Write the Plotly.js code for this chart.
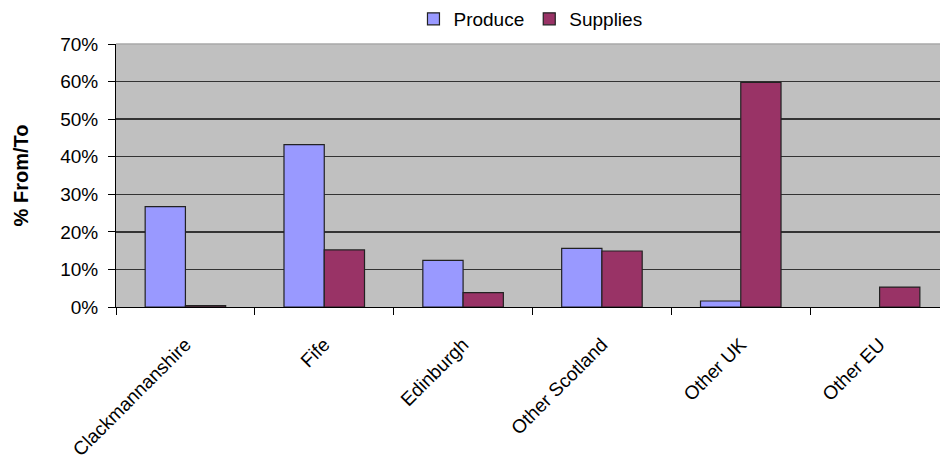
<!DOCTYPE html>
<html>
<head>
<meta charset="utf-8">
<script src="https://cdn.plot.ly/plotly-3.0.1.min.js"></script>
<style>html,body{margin:0;padding:0;background:#fff;}#chart{width:940px;height:461px;}</style>
</head>
<body>
<div id="chart"></div>
<script>
const categories = ["Clackmannanshire", "Fife", "Edinburgh", "Other Scotland", "Other UK", "Other EU"];
const produce = [0.267, 0.432, 0.124, 0.156, 0.016, null];
const supplies = [0.0035, 0.152, 0.038, 0.149, 0.598, 0.053];
const yTickVals = [0, 0.1, 0.2, 0.3, 0.4, 0.5, 0.6, 0.7];
const yTickText = ["0%", "10%", "20%", "30%", "40%", "50%", "60%", "70%"];

const font = "Arial, 'Liberation Sans', sans-serif";

const traces = [
  {type: "bar", name: "Produce", x: categories, y: produce,
   marker: {color: "#9999ff", line: {color: "#222", width: 1.2}}},
  {type: "bar", name: "Supplies", x: categories, y: supplies,
   marker: {color: "#993366", line: {color: "#222", width: 1.2}}}
];

const layout = {
  width: 940, height: 461,
  margin: {l: 116, r: 0, t: 44, b: 154},
  paper_bgcolor: "#ffffff",
  plot_bgcolor: "#c0c0c0",
  barmode: "group",
  bargap: 0.42,
  bargroupgap: 0,
  font: {family: font, size: 18, color: "#000"},
  showlegend: true,
  legend: {orientation: "h", x: 0.503, xanchor: "center", yref: "container", y: 1.0, yanchor: "top",
           font: {family: font, size: 19, color: "#000"}, itemwidth: 30, traceorder: "normal"},
  xaxis: {
    type: "category",
    range: [-0.5, 5.435],
    tickangle: -45,
    ticks: "outside", ticklen: 7, tickcolor: "#000", tickwidth: 1,
    tickson: "boundaries",
    ticklabelstandoff: 18,
    showline: true, linecolor: "#000", linewidth: 1,
    showgrid: false, zeroline: false,
    tickfont: {family: font, size: 19, color: "#000"},
    automargin: false
  },
  yaxis: {
    range: [0, 0.7],
    tickvals: yTickVals, ticktext: yTickText,
    ticks: "outside", ticklen: 7, tickcolor: "#000", tickwidth: 1,
    ticklabelstandoff: 6,
    showline: true, linecolor: "#000", linewidth: 1,
    showgrid: true, gridcolor: "#333", gridwidth: 1.3,
    zeroline: false,
    tickfont: {family: font, size: 19, color: "#000"},
    title: {text: "% From/To", font: {family: font, size: 20, color: "#000", weight: "bold"}, standoff: 26},
    automargin: false
  },
  shapes: [
    {type: "line", xref: "paper", yref: "paper", x0: 0, x1: 1, y0: 1, y1: 1,
     line: {color: "#a8a8a8", width: 1.5}, layer: "above"}
  ]
};

Plotly.newPlot("chart", traces, layout, {displayModeBar: false, staticPlot: true});
</script>
</body>
</html>
